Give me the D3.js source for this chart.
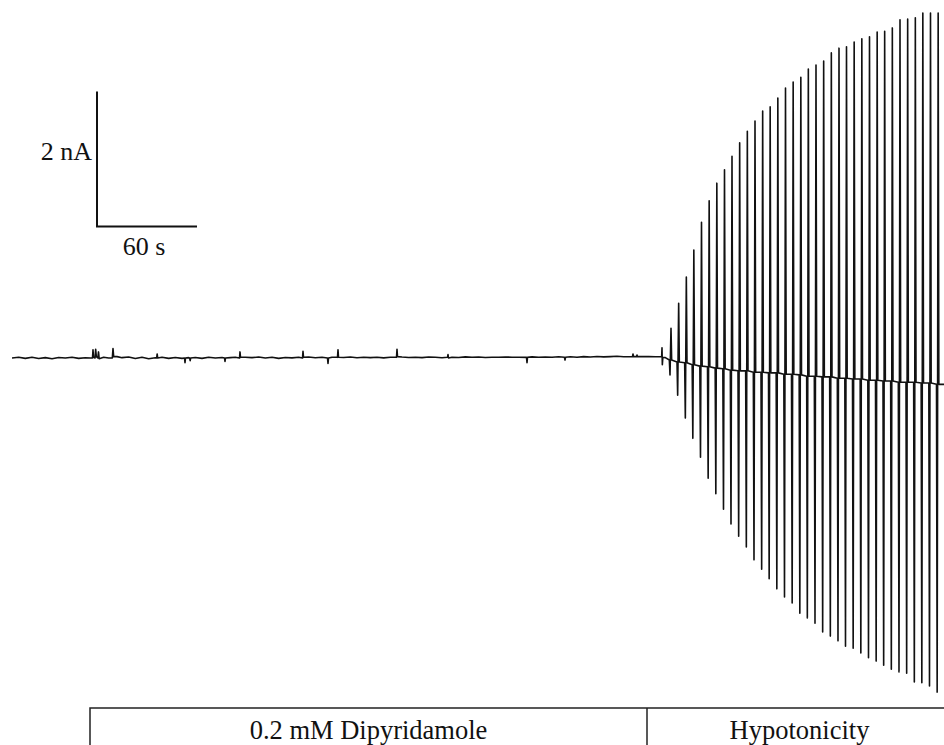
<!DOCTYPE html>
<html>
<head>
<meta charset="utf-8">
<script src="https://cdn.jsdelivr.net/npm/d3@7"></script>
<style>
  html, body { margin: 0; padding: 0; background: #ffffff; }
  svg { display: block; }
</style>
</head>
<body>
<svg id="chart" width="944" height="745"></svg>
<script>
// Whole-cell current recording: resting trace in dipyridamole, then
// voltage ramps applied during the hypotonic challenge.

// Resting current before the ramps: [time (s), current (nA)]
const restTrace = [
  [0, 0.000], [4, 0.010], [8, -0.005], [12, 0.012], [16, -0.008], [20, 0.006],
  [24, -0.012], [28, 0.008], [32, 0.000], [36, 0.012], [40, -0.006], [44, 0.004], [47, 0.000],
  [48.3, 0.00], [48.6, 0.12], [48.9, 0.01],
  [49.8, 0.00], [50.2, 0.13], [50.6, 0.02],
  [51.5, 0.00], [51.9, 0.09], [52.3, -0.01],
  [55, 0.010], [58, 0.000],
  [60.2, 0.00], [60.6, 0.14], [61.0, 0.02],
  [63, 0.020], [66, 0.005], [70, 0.015], [74, -0.008], [78, 0.010], [82, -0.010], [86, 0.004],
  [86.8, 0.00], [87.1, 0.06], [87.4, 0.00],
  [90, 0.012], [94, -0.006], [98, 0.008], [102, -0.005],
  [103.5, 0.00], [103.8, -0.07], [104.1, 0.00],
  [106, 0.005],
  [106.6, 0.00], [106.9, -0.04], [107.2, 0.00],
  [110, 0.008], [114, -0.006], [118, 0.010], [122, 0.000], [126, 0.008],
  [127.5, 0.00], [127.8, -0.05], [128.1, 0.00],
  [131, 0.006], [134, 0.010],
  [136.5, 0.00], [136.8, 0.09], [137.1, 0.01],
  [140, 0.012], [144, 0.006], [148, 0.014], [152, 0.000], [156, 0.010], [160, -0.006],
  [164, 0.008], [168, 0.002], [172, 0.012],
  [174.3, 0.00], [174.6, 0.10], [174.9, 0.01],
  [178, 0.014], [182, 0.004], [186, 0.010],
  [189.3, 0.00], [189.6, -0.08], [189.9, 0.00],
  [192, 0.012],
  [195.3, 0.01], [195.6, 0.12], [195.9, 0.01],
  [199, 0.008], [203, 0.014], [207, 0.004], [211, 0.012], [215, 0.006], [219, 0.010],
  [223, 0.002], [227, 0.012],
  [230.7, 0.01], [231.0, 0.13], [231.3, 0.02],
  [234, 0.014], [238, 0.008], [242, 0.012], [246, 0.006], [250, 0.014], [254, 0.010], [258, 0.004],
  [261.3, 0.01], [261.6, 0.05], [261.9, 0.00],
  [264, 0.012], [268, 0.008], [272, 0.016], [276, 0.010], [280, 0.014], [284, 0.008],
  [288, 0.012], [292, 0.010], [296, 0.014], [300, 0.012], [304, 0.010],
  [308.7, 0.01], [309.0, -0.07], [309.3, 0.01],
  [312, 0.016], [316, 0.010], [320, 0.014], [324, 0.012], [328, 0.018],
  [331.5, 0.01], [331.8, -0.03], [332.1, 0.01],
  [335, 0.018], [339, 0.012], [343, 0.020], [347, 0.014], [351, 0.022], [355, 0.016],
  [359, 0.020], [363, 0.026], [367, 0.018],
  [372.3, 0.02], [372.6, 0.06], [372.9, 0.02],
  [374.7, 0.02], [375.0, 0.045], [375.3, 0.02],
  [378, 0.020], [382, 0.022], [386, 0.018], [389.6, 0.020],
  [389.8, 0.02], [390.0, 0.15], [390.2, -0.10], [390.5, 0.01],
  [392, 0.005]
];

// Ramp onset times (s)
const rampTimes = [
  394.8, 399.4, 404.0, 408.5, 413.1, 417.7, 422.3, 426.9, 431.4, 436.0,
  440.6, 445.2, 449.8, 454.3, 458.9, 463.5, 468.1, 472.7, 477.2, 481.8,
  486.4, 491.0, 495.6, 500.1, 504.7, 509.3, 513.9, 518.5, 523.0, 527.6,
  532.2, 536.8, 541.4, 545.9, 550.5, 555.1
];

// Outward current at the positive end of each ramp (nA)
const rampOutward = [
  0.44, 0.81, 1.20, 1.60, 2.01, 2.33, 2.59, 2.79, 2.99, 3.19,
  3.36, 3.51, 3.66, 3.72, 3.85, 4.00, 4.09, 4.16, 4.28, 4.34,
  4.40, 4.52, 4.59, 4.61, 4.68, 4.73, 4.76, 4.83, 4.84, 4.89,
  5.01, 5.02, 5.04, 5.11, 5.11, 5.11
];

// Inward current at the negative end of each ramp (nA)
const rampInward = [
  -0.25, -0.55, -0.89, -1.19, -1.47, -1.78, -2.01, -2.24, -2.46, -2.64,
  -2.80, -2.99, -3.13, -3.27, -3.42, -3.54, -3.63, -3.78, -3.85, -3.93,
  -4.06, -4.12, -4.19, -4.27, -4.30, -4.37, -4.44, -4.49, -4.55, -4.61,
  -4.65, -4.67, -4.80, -4.81, -4.86, -4.95
];

// Holding current between ramps (nA)
const holdCurrent = [
  -0.03, -0.06, -0.07, -0.10, -0.12, -0.13, -0.15, -0.16, -0.18, -0.19,
  -0.19, -0.21, -0.21, -0.22, -0.22, -0.24, -0.24, -0.25, -0.27, -0.27,
  -0.28, -0.28, -0.30, -0.30, -0.31, -0.31, -0.33, -0.33, -0.34, -0.34,
  -0.36, -0.36, -0.36, -0.37, -0.37, -0.39
];

// Scale bar sizes and bath solution labels
const scaleBarCurrent = 2;   // nA
const scaleBarTime = 60;     // s
const scaleBarLabels = ["2 nA", "60 s"];
const solutions = ["0.2 mM Dipyridamole", "Hypotonicity"];
const solutionStart = [46.8, 381.0]; // s

const svg = d3.select("#chart");
const serif = "'Liberation Serif', 'Times New Roman', Times, serif";

const x = d3.scaleLinear().domain([0, 600]).range([12, 1012]);
const y = d3.scaleLinear().domain([0, 2]).range([358, 223]);

// Build the continuous trace
const trace = restTrace.slice();
rampTimes.forEach((t, i) => {
  trace.push([t - 0.4, holdCurrent[i]]);
  trace.push([t, rampInward[i]]);
  trace.push([t + 0.6, rampOutward[i]]);
  trace.push([t + 1.0, holdCurrent[i]]);
});
trace.push([562, holdCurrent[holdCurrent.length - 1]]);

const line = d3.line().x(d => x(d[0])).y(d => y(d[1]));

svg.append("path")
  .datum(trace)
  .attr("d", line)
  .attr("fill", "none")
  .attr("stroke", "#111")
  .attr("stroke-width", 1.6)
  .attr("stroke-linejoin", "round");

// Scale bar
const barX = 97, barY = 226.5;
const barH = y(0) - y(scaleBarCurrent);
const barW = x(scaleBarTime) - x(0);
const bar = svg.append("g").attr("stroke", "#111").attr("stroke-width", 2).attr("fill", "none");
bar.append("path")
  .attr("d", `M${barX},${barY - barH}V${barY}H${barX + barW}`);

svg.append("text")
  .attr("x", barX - 5).attr("y", 160)
  .attr("text-anchor", "end")
  .attr("font-family", serif).attr("font-size", 26)
  .attr("fill", "#111")
  .text(scaleBarLabels[0]);

svg.append("text")
  .attr("x", barX + barW / 2 - 3).attr("y", 255)
  .attr("text-anchor", "middle")
  .attr("font-family", serif).attr("font-size", 26)
  .attr("fill", "#111")
  .text(scaleBarLabels[1]);

// Solution bar
const boxTop = 708;
const boxEdges = solutionStart.map(t => x(t));
const boxRight = 960;
const sol = svg.append("g").attr("stroke", "#222").attr("stroke-width", 1.5).attr("fill", "none");
sol.append("path")
  .attr("d", `M${boxEdges[0]},760V${boxTop}H${boxRight}`);
sol.append("path")
  .attr("d", `M${boxEdges[1]},${boxTop}V760`);

const textCenters = [
  (boxEdges[0] + boxEdges[1]) / 2,
  (boxEdges[1] + 944) / 2 + 4
];
solutions.forEach((s, i) => {
  svg.append("text")
    .attr("x", textCenters[i]).attr("y", 739)
    .attr("text-anchor", "middle")
    .attr("font-family", serif).attr("font-size", 26.5)
    .attr("fill", "#111")
    .text(s);
});
</script>
</body>
</html>
